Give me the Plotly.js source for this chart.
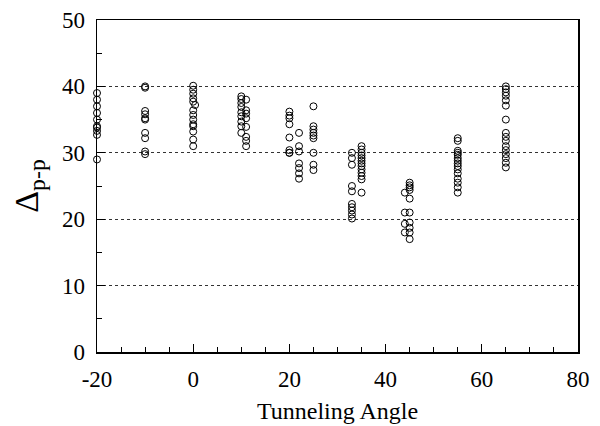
<!DOCTYPE html>
<html>
<head>
<meta charset="utf-8">
<script src="https://cdn.plot.ly/plotly-3.0.1.min.js"></script>
<style>html,body{margin:0;padding:0;background:#fff;}#chart{width:600px;height:426px;}</style>
</head>
<body>
<div id="chart"></div>
<script>
// Tunneling angle groups and their measured Δp-p values
var angles = [-20, -10, 0, 0.4, 10, 11, 20, 22, 25, 33, 35, 44, 45, 55, 65];
var valsM20 = [39, 38, 37, 36, 35, 34, 33.8, 33.3, 32.7, 29];
var valsM10 = [40, 39.8, 36.3, 35.8, 35.2, 35, 33, 32.2, 30.2, 29.8];
var vals0 = [40.1, 39.5, 38.9, 38.2, 37.7, 36.4, 35.7, 35, 34.3, 34, 33.2, 32, 31];
var vals0b = [37.2];
var vals10 = [38.5, 38.1, 37.5, 36.9, 36.1, 35.5, 34.7, 34, 33];
var vals11 = [38, 36.4, 35.9, 35.2, 33.9, 32.4, 31.8, 31];
var vals20 = [36.2, 35.6, 35.2, 34.3, 32.3, 30.4, 30, 30];
var vals22 = [33, 31, 30.2, 28.4, 27.7, 26.9, 26.1];
var vals25 = [37, 34, 33.5, 33, 32.6, 32.2, 30, 28.2, 27.4];
var vals33 = [30, 29.2, 28.2, 25, 24.2, 22.3, 21.8, 21.3, 20.7, 20.1];
var vals35 = [31, 30.5, 30, 29.6, 29.2, 28.8, 28.4, 28, 27.5, 27, 26.5, 26, 24];
var vals44 = [24, 21, 19.3, 18];
var vals45 = [25.5, 25.1, 24.8, 24.4, 23.1, 21, 19.5, 18.7, 18, 17];
var vals55 = [32.2, 31.8, 30.3, 30, 29.7, 29.2, 28.8, 28.4, 28, 27.5, 26.9, 26.1, 25.5, 24.8, 24];
var vals65 = [40, 39.6, 39.1, 38.6, 37.9, 37.1, 35, 33, 32.4, 31.8, 31, 30.4, 29.8, 29.2, 28.5, 27.8];
var groups = [valsM20, valsM10, vals0, vals0b, vals10, vals11, vals20, vals22, vals25, vals33, vals35, vals44, vals45, vals55, vals65];

var xTickVals = [-20, 0, 20, 40, 60, 80];
var yTickVals = [0, 10, 20, 30, 40, 50];

var X = [], Y = [];
groups.forEach(function (g, i) {
  g.forEach(function (v) { X.push(angles[i]); Y.push(v); });
});

var trace = {
  x: X, y: Y, type: 'scatter', mode: 'markers', cliponaxis: false,
  marker: {symbol: 'circle-open', size: 7, color: '#000', line: {width: 1, color: '#000'}},
  hoverinfo: 'x+y'
};

var fam = 'Liberation Serif';

var layout = {
  width: 600, height: 426,
  margin: {l: 97, r: 22, t: 20, b: 74},
  paper_bgcolor: '#fff', plot_bgcolor: '#fff',
  showlegend: false,
  font: {family: fam, size: 22, color: '#000'},
  xaxis: {
    range: [-20, 80], tickvals: xTickVals, ticktext: xTickVals.map(String),
    ticks: 'inside', ticklen: 8, tickwidth: 1, tickcolor: '#000',
    minor: {dtick: 5, ticks: 'inside', ticklen: 5, tickcolor: '#000', showgrid: false},
    showline: true, linecolor: '#000', linewidth: 1.5, mirror: true,
    showgrid: false, zeroline: false,
    tickfont: {family: fam, size: 23, color: '#000'},
    ticklabelstandoff: 6,
    title: {text: 'Tunneling Angle', font: {family: fam, size: 24, color: '#000'}, standoff: 11}
  },
  yaxis: {
    range: [0, 50], tickvals: yTickVals, ticktext: yTickVals.map(String),
    ticks: 'inside', ticklen: 8, tickwidth: 1, tickcolor: '#000',
    minor: {dtick: 5, ticks: 'inside', ticklen: 5, tickcolor: '#000', showgrid: false},
    showline: true, linecolor: '#000', linewidth: 1.5, mirror: true,
    showgrid: true, gridcolor: '#333', griddash: 'dot', gridwidth: 1,
    zeroline: false,
    tickfont: {family: fam, size: 23, color: '#000'},
    ticklabelstandoff: 6,
    title: {text: 'Δ<sub>p-p</sub>', font: {family: fam, size: 34, color: '#000'}, standoff: 13}
  }
};

Plotly.newPlot('chart', [trace], layout, {displayModeBar: false, staticPlot: true});
</script>
</body>
</html>
